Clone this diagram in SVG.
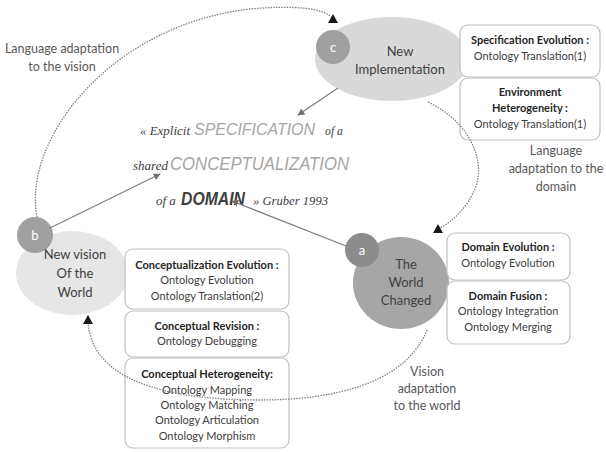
<svg xmlns="http://www.w3.org/2000/svg" width="606" height="452" viewBox="0 0 606 452">
<style>
.t{font-family:Lato,"Open Sans","Liberation Sans",sans-serif;text-anchor:middle;fill:#404040}
.box{fill:#fff;stroke:#bfbfbf;stroke-width:1.2}
.bt{font-size:11px}
.bb{font-size:11px;font-weight:bold;fill:#262626}
.node{font-size:13px;fill:#404040}
.lbl{font-size:12.5px;fill:#595959}
.badge{font-size:13px;fill:#fff}
.dot{fill:none;stroke:#808080;stroke-width:1.3;stroke-dasharray:1.5 1.2}
.sol{fill:none;stroke:#7f7f7f;stroke-width:1.3}
.tm{font-family:"Liberation Serif",serif;font-style:italic;fill:#404040;font-size:13px}
.big{font-family:"Liberation Sans",Arial,sans-serif;font-style:italic;font-size:19px;fill:#a6a6a6}
</style>
<defs>
<marker id="tri" viewBox="0 0 10 10" refX="5" refY="5" markerWidth="10" markerHeight="10" markerUnits="userSpaceOnUse" orient="0"><path d="M5 0 L10 9 L0 9 Z" fill="#1a1a1a"/></marker>
<marker id="sarr" viewBox="0 0 10 10" refX="9" refY="5" markerWidth="7" markerHeight="7" markerUnits="userSpaceOnUse" orient="auto"><path d="M0 0 L10 5 L0 10 Z" fill="#6f6f6f"/></marker>
</defs>

<g id="quote">
<text class="tm" x="140" y="135" textLength="50" lengthAdjust="spacingAndGlyphs">« Explicit</text>
<text class="big" x="194" y="135" font-size="17" style="font-size:17px" textLength="121" lengthAdjust="spacingAndGlyphs">SPECIFICATION</text>
<text class="tm" x="325" y="135" textLength="18" lengthAdjust="spacingAndGlyphs">of a</text>
<text class="tm" x="133" y="170" font-size="12" textLength="35" lengthAdjust="spacingAndGlyphs">shared</text>
<text class="big" x="170" y="170" textLength="179" lengthAdjust="spacingAndGlyphs">CONCEPTUALIZATION</text>
<text class="tm" x="156" y="205">of a</text>
<text class="big" x="181" y="205" font-weight="bold" style="fill:#404040" textLength="64" lengthAdjust="spacingAndGlyphs">DOMAIN</text>
<text class="tm" x="253" y="205" textLength="75" lengthAdjust="spacingAndGlyphs">» Gruber 1993</text>
</g>

<g id="node-c">
<ellipse cx="392" cy="59" rx="77" ry="42" fill="#d9d9d9"/>
<circle cx="333" cy="47" r="17" fill="#a0a0a0"/>
<text class="t badge" x="333" y="52">c</text>
<text class="t node" x="400" y="56">New</text>
<text class="t node" x="400" y="74">Implementation</text>
</g>
<g id="box-spec-evol">
<rect class="box" x="460" y="25" width="140" height="52" rx="8"/>
<text class="t bb" x="530" y="44">Specification Evolution :</text>
<text class="t bt" x="530" y="60">Ontology Translation(1)</text>
</g>
<g id="box-env-het">
<rect class="box" x="460" y="78" width="140" height="62" rx="8"/>
<text class="t bb" x="530" y="96">Environment</text>
<text class="t bb" x="530" y="112">Heterogeneity :</text>
<text class="t bt" x="530" y="128">Ontology Translation(1)</text>
</g>

<g id="node-a">
<ellipse cx="401" cy="283" rx="48" ry="46" fill="#a6a6a6"/>
<circle cx="362" cy="250" r="17" fill="#8c8c8c"/>
<text class="t badge" x="362" y="255">a</text>
<text class="t node" x="406" y="269">The</text>
<text class="t node" x="406" y="287">World</text>
<text class="t node" x="406" y="305">Changed</text>
</g>
<g id="box-dom-evol">
<rect class="box" x="447" y="233" width="123" height="47" rx="8"/>
<text class="t bb" x="508" y="251">Domain Evolution :</text>
<text class="t bt" x="508" y="267">Ontology Evolution</text>
</g>
<g id="box-dom-fusion">
<rect class="box" x="447" y="281" width="123" height="63" rx="8"/>
<text class="t bb" x="508" y="300">Domain Fusion :</text>
<text class="t bt" x="508" y="315">Ontology Integration</text>
<text class="t bt" x="508" y="331">Ontology Merging</text>
</g>

<g id="node-b">
<ellipse cx="72" cy="273" rx="56" ry="42" fill="#e6e6e6"/>
<circle cx="35" cy="235" r="18" fill="#a0a0a0"/>
<text class="t badge" x="35" y="240">b</text>
<text class="t node" x="75" y="259">New vision</text>
<text class="t node" x="75" y="278">Of the</text>
<text class="t node" x="75" y="297">World</text>
</g>
<g id="box-concept-evol">
<rect class="box" x="125" y="249" width="164" height="60" rx="8"/>
<text class="t bb" x="207" y="269">Conceptualization Evolution :</text>
<text class="t bt" x="207" y="284">Ontology Evolution</text>
<text class="t bt" x="207" y="300">Ontology Translation(2)</text>
</g>
<g id="box-concept-rev">
<rect class="box" x="125" y="311" width="164" height="46" rx="8"/>
<text class="t bb" x="207" y="330">Conceptual Revision :</text>
<text class="t bt" x="207" y="345">Ontology Debugging</text>
</g>
<g id="box-concept-het">
<rect class="box" x="125" y="358" width="164" height="90" rx="8"/>
<text class="t bb" x="207" y="378">Conceptual Heterogeneity:</text>
<text class="t bt" x="207" y="394">Ontology Mapping</text>
<text class="t bt" x="207" y="409">Ontology Matching</text>
<text class="t bt" x="207" y="424">Ontology Articulation</text>
<text class="t bt" x="207" y="440">Ontology Morphism</text>
</g>

<g id="connectors">
<path class="dot" d="M37 217 C22 140 110 25 250 9 C295 5 325 8 333 19" marker-end="url(#tri)"/>
<path class="dot" d="M428 102 C470 122 485 160 476 186 C468 208 452 222 438 229" marker-end="url(#tri)"/>
<path class="dot" d="M427 330 C405 385 330 400 260 400 C170 400 90 382 88 320" marker-end="url(#tri)"/>
<line class="sol" x1="338" y1="88" x2="298" y2="115" marker-end="url(#sarr)"/>
<line class="sol" x1="50" y1="228" x2="160" y2="174" marker-end="url(#sarr)"/>
<line class="sol" x1="346" y1="246" x2="232" y2="201" marker-end="url(#sarr)"/>
<text class="t lbl" x="62" y="53">Language adaptation</text>
<text class="t lbl" x="62" y="71">to the vision</text>
<text class="t lbl" x="556" y="155" font-size="12">Language</text>
<text class="t lbl" x="556" y="173" font-size="12">adaptation to the</text>
<text class="t lbl" x="556" y="191" font-size="12">domain</text>
<text class="t lbl" x="427" y="376">Vision</text>
<text class="t lbl" x="427" y="393">adaptation</text>
<text class="t lbl" x="427" y="410">to the world</text>
</g>
</svg>
